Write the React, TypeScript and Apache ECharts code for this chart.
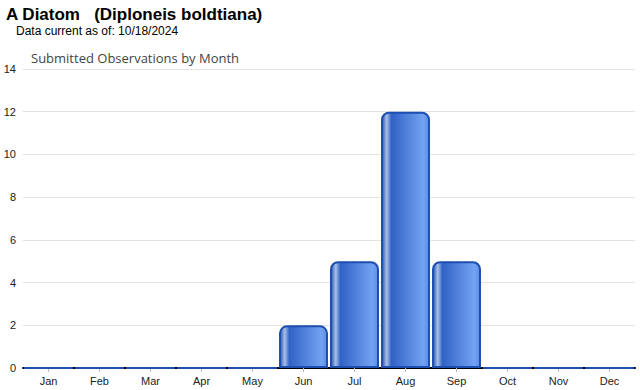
import React, { useEffect, useRef } from "react";
import * as echarts from "echarts";

const months = ["Jan", "Feb", "Mar", "Apr", "May", "Jun", "Jul", "Aug", "Sep", "Oct", "Nov", "Dec"];
const observations = [0, 0, 0, 0, 0, 2, 5, 12, 5, 0, 0, 0];
const titleText = "A Diatom   (Diploneis boldtiana)";
const subText = "Data current as of: 10/18/2024";
const chartTitle = "Submitted Observations by Month";

export default function App() {
  const ref = useRef<HTMLDivElement>(null);
  useEffect(() => {
    if (!ref.current) return;
    const chart = echarts.init(ref.current, undefined, { renderer: "svg" });
    const grad = new echarts.graphic.LinearGradient(0, 0, 1, 0, [
      { offset: 0, color: "#2a58b8" },
      { offset: 0.1, color: "#a9bfe6" },
      { offset: 0.2, color: "#3062c6" },
      { offset: 0.88, color: "#72a2f2" },
      { offset: 1, color: "#5f8ee4" },
    ]);
    chart.setOption({
      animation: false,
      title: [
        { text: titleText, left: 6, top: 6, padding: 0, textStyle: { fontFamily: "Liberation Sans, Arial", fontSize: 17, fontWeight: "bold", color: "#000" } },
        { text: subText, left: 16, top: 25, padding: 0, textStyle: { fontFamily: "Liberation Sans, Arial", fontSize: 12, fontWeight: "normal", color: "#000" } },
        { text: chartTitle, left: 31, top: 51, padding: 0, textStyle: { fontFamily: "Open Sans, Noto Sans", fontSize: 13, fontWeight: "normal", color: "#444" } },
      ],
      grid: { left: 23, right: 5, top: 69, bottom: 22 },
      xAxis: {
        type: "category",
        data: months,
        axisLine: { lineStyle: { color: "#000", width: 2 } },
        axisTick: { show: true, alignWithLabel: true, length: 4, lineStyle: { color: "#bbb" } },
        axisLabel: { fontFamily: "Liberation Sans, Arial", fontSize: 11, color: "#222", margin: 7 },
      },
      yAxis: {
        type: "value",
        min: 0,
        max: 14,
        interval: 2,
        axisLine: { show: false },
        axisTick: { show: false },
        splitLine: { lineStyle: { color: "#e3e3e3" } },
        axisLabel: { fontFamily: "Liberation Sans, Arial", fontSize: 11, color: "#222", margin: 7 },
      },
      series: [
        {
          type: "bar",
          data: observations,
          barCategoryGap: "4%",
          itemStyle: {
            color: grad,
            borderColor: "#1d4fb0",
            borderWidth: 2,
            borderRadius: [7, 7, 0, 0],
          },
        },
      ],
    });
    return () => chart.dispose();
  }, []);
  return <div ref={ref} style={{ width: 640, height: 390, position: "absolute", left: 0, top: 0 }} />;
}
